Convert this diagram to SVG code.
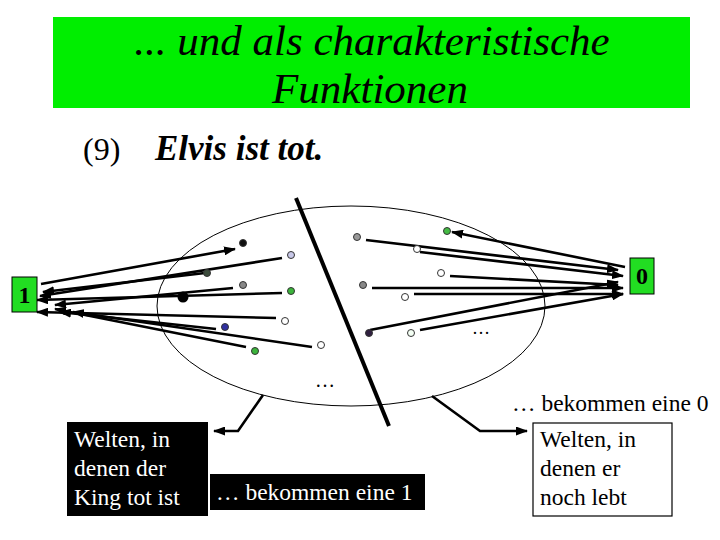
<svg xmlns="http://www.w3.org/2000/svg" width="720" height="540" viewBox="0 0 720 540">
<defs>
<style>
.ser{font-family:"Liberation Serif","Times New Roman",serif}
.arr{stroke:#000;stroke-width:2.6;fill:none;marker-end:url(#ah)}
.dot{stroke:#333;stroke-width:1}
.lbl{font-family:"Liberation Serif","Times New Roman",serif;font-size:23.5px}
</style>
<marker id="ah" markerUnits="userSpaceOnUse" markerWidth="12" markerHeight="9" refX="11" refY="4.5" orient="auto">
<path d="M0,0 L12,4.5 L0,9 z" fill="#000"/>
</marker>
</defs>
<rect width="720" height="540" fill="#fff"/>

<g id="title">
<rect x="53" y="17" width="637" height="91" fill="#00ee00"/>
<text class="ser" x="372" y="55" font-size="43" font-style="italic" text-anchor="middle">... und als charakteristische</text>
<text class="ser" x="370" y="103" font-size="43" font-style="italic" text-anchor="middle">Funktionen</text>
</g>

<g id="example">
<text class="ser" x="83" y="160" font-size="32">(9)</text>
<text class="ser" x="155" y="160" font-size="35" font-style="italic" font-weight="bold">Elvis ist tot.</text>
</g>

<g id="worlds">
<ellipse cx="351" cy="306" rx="194" ry="100" fill="none" stroke="#000" stroke-width="1"/>
<line x1="296" y1="198" x2="389" y2="426" stroke="#000" stroke-width="4"/>
<text class="ser" x="472" y="334" font-size="18">…</text>
<text class="ser" x="315" y="387" font-size="20">…</text>
</g>

<g id="connectors">
<line class="arr" x1="41" y1="284" x2="235" y2="249"/>
<line class="arr" x1="282" y1="258" x2="40" y2="296"/>
<line class="arr" x1="205" y1="273" x2="43" y2="292"/>
<line class="arr" x1="233" y1="288" x2="55" y2="305"/>
<line class="arr" x1="282" y1="293" x2="37" y2="300"/>
<line class="arr" x1="276" y1="318" x2="37" y2="312"/>
<line class="arr" x1="216" y1="329" x2="60" y2="312"/>
<line class="arr" x1="312" y1="347" x2="73" y2="312"/>
<line class="arr" x1="246" y1="347" x2="55" y2="309"/>

<line class="arr" x1="625" y1="267" x2="452" y2="232"/>
<line class="arr" x1="366" y1="240" x2="618" y2="270"/>
<line class="arr" x1="420" y1="252" x2="623" y2="276"/>
<line class="arr" x1="450" y1="276" x2="618" y2="285"/>
<line class="arr" x1="372" y1="288" x2="623" y2="288"/>
<line class="arr" x1="414" y1="294" x2="623" y2="294"/>
<line class="arr" x1="370" y1="330" x2="618" y2="282"/>
<line class="arr" x1="420" y1="330" x2="623" y2="294"/>

<polyline class="arr" points="263,395 238,431 214,431"/>
<polyline class="arr" points="432,396 480,431 527,431"/>
</g>

<g id="dots">
<circle cx="243" cy="243" r="3.5" fill="#111" class="dot"/>
<circle cx="291" cy="255" r="3.5" fill="#c8c8e8" class="dot"/>
<circle cx="207" cy="273" r="3.5" fill="#3c4c3c" class="dot"/>
<circle cx="243" cy="285" r="3.5" fill="#888" class="dot"/>
<circle cx="291" cy="291" r="3.5" fill="#3cb43c" class="dot"/>
<circle cx="183" cy="297" r="5.5" fill="#000"/>
<circle cx="285" cy="321" r="3.5" fill="#fff" class="dot"/>
<circle cx="225" cy="327" r="3.5" fill="#3030a0" class="dot"/>
<circle cx="321" cy="345" r="3.5" fill="#fff" class="dot"/>
<circle cx="255" cy="351" r="3.5" fill="#3cb43c" class="dot"/>
<circle cx="357" cy="237" r="3.5" fill="#999" class="dot"/>
<circle cx="447" cy="231" r="3.5" fill="#44bb44" class="dot"/>
<circle cx="417" cy="249" r="3.5" fill="#fff" class="dot"/>
<circle cx="441" cy="273" r="3.5" fill="#fff" class="dot"/>
<circle cx="363" cy="285" r="3.5" fill="#888" class="dot"/>
<circle cx="405" cy="297" r="3.5" fill="#fff" class="dot"/>
<circle cx="369" cy="333" r="3.5" fill="#302040" class="dot"/>
<circle cx="411" cy="333" r="3.5" fill="#f4fff4" class="dot"/>
</g>

<g id="box1">
<rect x="12" y="277" width="25" height="35" fill="#22dd22" stroke="#000" stroke-width="1"/>
<text class="ser" x="24.5" y="303" font-size="24" font-weight="bold" text-anchor="middle">1</text>
</g>

<g id="box0">
<rect x="630" y="258" width="24" height="36" fill="#22dd22" stroke="#000" stroke-width="1"/>
<text class="ser" x="642" y="284" font-size="24" font-weight="bold" text-anchor="middle">0</text>
</g>

<g id="dead">
<rect x="67" y="422" width="141" height="94" fill="#000"/>
<text class="lbl" fill="#fff"><tspan x="74" y="447">Welten, in</tspan><tspan x="74" y="476">denen der</tspan><tspan x="74" y="505">King tot ist</tspan></text>
</g>

<g id="get1">
<rect x="210" y="474" width="215" height="36" fill="#000"/>
<text class="lbl" x="216" y="500" fill="#fff" font-size="24">… bekommen eine 1</text>
</g>

<g id="alive">
<rect x="533" y="423" width="139" height="93" fill="#fff" stroke="#000" stroke-width="1.2"/>
<text class="lbl" fill="#000"><tspan x="540" y="447">Welten, in</tspan><tspan x="540" y="476">denen er</tspan><tspan x="540" y="505">noch lebt</tspan></text>
</g>

<g id="get0">
<text class="lbl" x="512" y="411" font-size="24">… bekommen eine 0</text>
</g>
</svg>
